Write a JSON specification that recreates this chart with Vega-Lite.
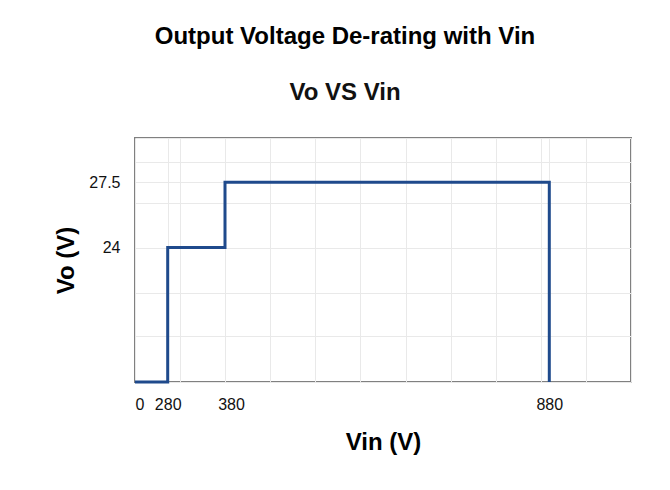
{
  "$schema": "https://vega.github.io/schema/vega-lite/v6.json",
  "width": 496,
  "height": 244,
  "autosize": {"type": "none"},
  "padding": {"left": 135, "top": 138, "right": 39, "bottom": 108},
  "background": "white",
  "title": {
    "text": "Output Voltage De-rating with Vin",
    "subtitle": "Vo VS Vin",
    "anchor": "middle",
    "frame": "group",
    "dx": -38,
    "offset": 25,
    "font": "Liberation Sans",
    "fontSize": 24,
    "fontWeight": "bold",
    "color": "#000000",
    "subtitleFont": "Liberation Sans",
    "subtitleFontSize": 24,
    "subtitleFontWeight": "bold",
    "subtitleColor": "#111111",
    "subtitlePadding": 32
  },
  "config": {
    "view": {"stroke": "#808080", "strokeWidth": 2},
    "axis": {
      "labelFont": "Liberation Sans",
      "titleFont": "Liberation Sans",
      "labelColor": "#111111",
      "titleColor": "#000000",
      "gridColor": "#e9e9e9",
      "gridWidth": 1,
      "domain": false,
      "ticks": false,
      "tickSize": 0
    }
  },
  "data": {
    "values": [
      {"i": 0, "Vin": 0, "Vo": 16.8},
      {"i": 1, "Vin": 280, "Vo": 16.8},
      {"i": 2, "Vin": 280, "Vo": 24},
      {"i": 3, "Vin": 380, "Vo": 24},
      {"i": 4, "Vin": 380, "Vo": 27.5},
      {"i": 5, "Vin": 880, "Vo": 27.5},
      {"i": 6, "Vin": 880, "Vo": 16.8}
    ]
  },
  "mark": {"type": "line", "color": "#1f4a8c", "strokeWidth": 3, "interpolate": "linear"},
  "encoding": {
    "x": {
      "field": "Vin",
      "type": "quantitative",
      "scale": {"domain": [0, 280, 380, 880, 1006], "range": [0, 32.7, 90, 414.3, 496], "nice": false, "zero": false},
      "axis": {
        "title": "Vin (V)",
        "values": [0, 280, 301.6, 380, 449.8, 519.3, 588.8, 658.4, 727.9, 797.4, 866.9, 880, 936.4, 1006],
        "labelExpr": "indexof([0, 280, 380, 880], datum.value) >= 0 ? datum.label : ''",
        "labelOverlap": false,
        "labelFontSize": 16,
        "labelPadding": 14,
        "labelOffset": {"condition": {"test": "datum.value == 380", "value": 6}, "value": 0},
        "titleFontSize": 24,
        "titleFontWeight": "bold",
        "titlePadding": 18
      }
    },
    "y": {
      "field": "Vo",
      "type": "quantitative",
      "scale": {"domain": [16.8, 29.87], "nice": false, "zero": false},
      "axis": {
        "title": "Vo (V)",
        "values": [16.8, 19.24, 21.59, 24, 26.38, 27.5, 28.6, 29.87],
        "labelExpr": "datum.value == 24 ? '24' : datum.value == 27.5 ? '27.5' : ''",
        "labelOverlap": false,
        "labelFontSize": 16,
        "labelPadding": 15,
        "titleFontSize": 24,
        "titleFontWeight": "bold",
        "titlePadding": 10
      }
    },
    "order": {"field": "i", "type": "quantitative"}
  }
}
